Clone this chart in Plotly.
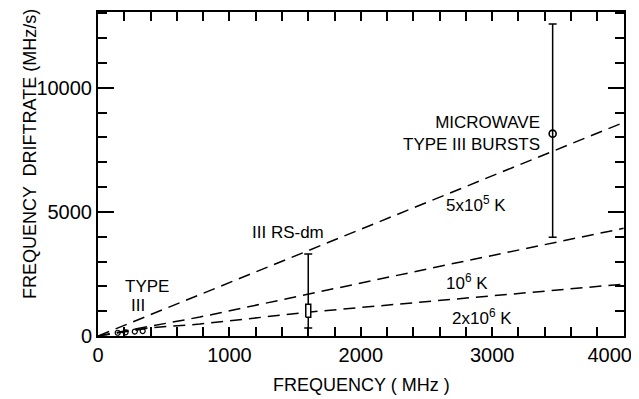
import plotly.graph_objects as go

# Model lines (temperature curves)
line_5e5_x = [0, 4000]
line_5e5_y = [0, 8600]
line_1e6_x = [0, 400, 775, 2677, 4000]
line_1e6_y = [0, 380, 763, 2890, 4337]
line_2e6_x = [0, 400, 775, 1600, 4000]
line_2e6_y = [0, 330, 480, 960, 2090]

# Type III bursts (small circles near origin)
type3_freq = [150, 210, 280, 340]
type3_rate = [130, 150, 180, 200]

# III RS-dm burst
rsdm_freq = [1600]
rsdm_low = [320]
rsdm_high = [3300]
rsdm_box_low = [760]
rsdm_box_high = [1280]

# Microwave type III bursts
mw_freq = [3460]
mw_rate = [8150]
mw_low = [3980]
mw_high = [12570]

x_tickvals = [0, 1000, 2000, 3000, 4000]
x_ticktext = ["0", "1000", "2000", "3000", "4000\u00a0\u00a0\u00a0\u00a0\u00a0"]
y_tickvals = [0, 5000, 10000]
y_ticktext = ["0", "5000", "10000"]

FONT = "Liberation Sans"
fig = go.Figure()

dash = "12px,7px"
for xs, ys in [(line_5e5_x, line_5e5_y), (line_1e6_x, line_1e6_y), (line_2e6_x, line_2e6_y)]:
    fig.add_trace(go.Scatter(x=xs, y=ys, mode="lines",
                             line=dict(color="black", width=1.5, dash=dash),
                             hoverinfo="skip", showlegend=False))

fig.add_trace(go.Scatter(x=type3_freq, y=type3_rate, mode="markers",
                         marker=dict(symbol="circle-open", size=5, color="black",
                                     line=dict(width=1.2)),
                         showlegend=False))

# RS-dm vertical range with caps
for f, lo, hi in zip(rsdm_freq, rsdm_low, rsdm_high):
    mid = (lo + hi) / 2
    fig.add_trace(go.Scatter(x=[f], y=[mid], mode="markers",
                             marker=dict(size=0.1, color="rgba(0,0,0,0)"),
                             error_y=dict(type="data", symmetric=False,
                                          array=[hi - mid], arrayminus=[mid - lo],
                                          color="black", thickness=1.5, width=4),
                             showlegend=False))
for f, bl, bh in zip(rsdm_freq, rsdm_box_low, rsdm_box_high):
    hw = 19
    fig.add_trace(go.Scatter(x=[f - hw, f + hw, f + hw, f - hw, f - hw],
                             y=[bl, bl, bh, bh, bl], mode="lines",
                             fill="toself", fillcolor="white",
                             line=dict(color="black", width=1.5),
                             showlegend=False))

fig.add_trace(go.Scatter(x=mw_freq, y=mw_rate, mode="markers",
                         marker=dict(symbol="circle-open", size=7, color="black",
                                     line=dict(width=1.6)),
                         error_y=dict(type="data", symmetric=False,
                                      array=[h - r for h, r in zip(mw_high, mw_rate)],
                                      arrayminus=[r - l for r, l in zip(mw_rate, mw_low)],
                                      color="black", thickness=1.5, width=4),
                         showlegend=False))

tickfont = dict(family=FONT, size=20, color="black")
fig.update_xaxes(range=[0, 4003], tickvals=x_tickvals, ticktext=x_ticktext,
                 ticklabeloverflow="allow", automargin=False,
                 ticks="inside", ticklen=9, tickwidth=1.6, tickcolor="black",
                 minor=dict(dtick=200, ticks="inside", ticklen=9, tickwidth=1.6, tickcolor="black"),
                 showline=True, linecolor="black", linewidth=2, mirror="allticks",
                 showgrid=False, zeroline=False, tickfont=tickfont)
fig.update_yaxes(range=[0, 13050], tickvals=y_tickvals, ticktext=y_ticktext,
                 automargin=False,
                 ticks="inside", ticklen=16, tickwidth=1.6, tickcolor="black",
                 minor=dict(dtick=1000, ticks="inside", ticklen=9, tickwidth=1.6, tickcolor="black"),
                 showline=True, linecolor="black", linewidth=2, mirror="allticks",
                 showgrid=False, zeroline=False, tickfont=tickfont)

ann = dict(showarrow=False, font=dict(family=FONT, size=17, color="black"))
fig.add_annotation(x=372, y=1980, text="TYPE", xref="x", yref="y", **ann)
fig.add_annotation(x=304, y=1220, text="III", xref="x", yref="y", **ann)
fig.add_annotation(x=1445, y=4180, text="III RS-dm", xref="x", yref="y", **ann)
fig.add_annotation(x=3376, y=8170, text="MICROWAVE<br>TYPE III BURSTS", xref="x", yref="y",
                   xanchor="right", align="right", **ann)
fig.add_annotation(x=2880, y=5300, text="5x10<sup>5</sup> K", xref="x", yref="y", **ann)
fig.add_annotation(x=2806, y=2170, text="10<sup>6</sup> K", xref="x", yref="y", **ann)
fig.add_annotation(x=2920, y=760, text="2x10<sup>6</sup> K", xref="x", yref="y", **ann)

fig.add_annotation(x=-0.153, y=0.56, xref="paper", yref="paper", textangle=-90,
                   text="FREQUENCY  DRIFTRATE (MHz/s)", showarrow=False,
                   font=dict(family=FONT, size=18, color="black"))
fig.add_annotation(x=0.5, y=-0.113, xref="paper", yref="paper",
                   text="FREQUENCY ( MHz )", showarrow=False, yanchor="top",
                   font=dict(family=FONT, size=18, color="black"))

# page body has an 8px margin; compensate so the plot lands where the reference has it
fig.update_layout(width=631, height=391, plot_bgcolor="white", paper_bgcolor="white",
                  margin=dict(l=90, r=15, t=4, b=63), showlegend=False)

fig.write_html("out.html")
